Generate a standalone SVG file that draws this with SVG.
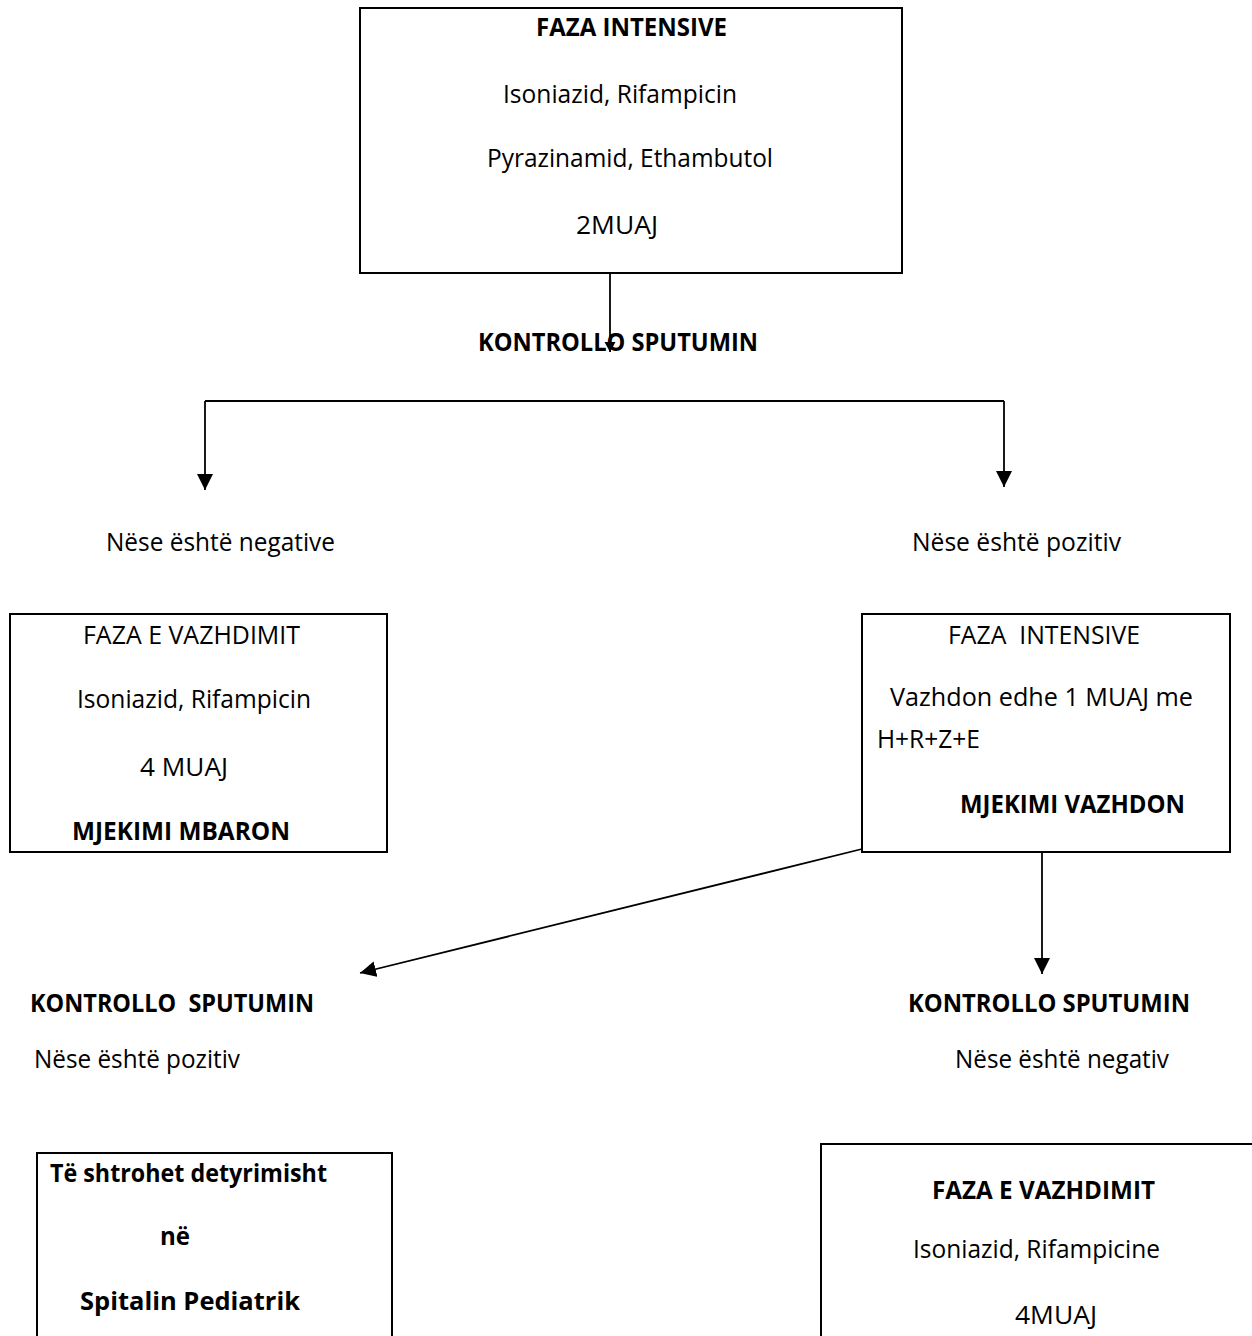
<svg xmlns="http://www.w3.org/2000/svg" width="1252" height="1336" viewBox="0 0 1252 1336">
<style>
.box{fill:#fff;stroke:#000;stroke-width:2}
.t{font-family:"Open Sans","Noto Sans","Liberation Sans",sans-serif;font-size:25px;fill:#000}
.b{font-weight:bold}
.c{fill:none;stroke:#000;stroke-width:1.8}
</style>
<defs>
<marker id="ah" markerUnits="userSpaceOnUse" markerWidth="16" markerHeight="18" refX="16" refY="8" orient="auto">
<path d="M0,0 L16,8 L0,16 Z" fill="#000"/>
</marker>
<marker id="ahs" markerUnits="userSpaceOnUse" markerWidth="12" markerHeight="12" refX="10" refY="5.5" orient="auto">
<path d="M0,0 L10,5.5 L0,11 Z" fill="#000"/>
</marker>
</defs>
<rect width="1252" height="1336" fill="#fff"/>

<g id="n_top">
<rect class="box" x="360" y="8" width="542" height="265"/>
<text class="t b" x="536" y="36" textLength="191" lengthAdjust="spacingAndGlyphs">FAZA INTENSIVE</text>
<text class="t" x="503" y="103" textLength="234" lengthAdjust="spacingAndGlyphs">Isoniazid, Rifampicin</text>
<text class="t" x="487" y="167" textLength="286" lengthAdjust="spacingAndGlyphs">Pyrazinamid, Ethambutol</text>
<text class="t" x="576" y="234" textLength="82" lengthAdjust="spacingAndGlyphs">2MUAJ</text>
</g>

<g id="n_kontrollo1">
<text class="t b" x="478" y="351" textLength="280" lengthAdjust="spacingAndGlyphs">KONTROLLO SPUTUMIN</text>
</g>

<g id="n_neg1">
<text class="t" x="106" y="551" textLength="229" lengthAdjust="spacingAndGlyphs">Nëse është negative</text>
</g>
<g id="n_poz1">
<text class="t" x="912" y="551" textLength="209" lengthAdjust="spacingAndGlyphs">Nëse është pozitiv</text>
</g>

<g id="n_vazhdimit1">
<rect class="box" x="10" y="614" width="377" height="238"/>
<text class="t" x="83" y="644" textLength="217" lengthAdjust="spacingAndGlyphs">FAZA E VAZHDIMIT</text>
<text class="t" x="77" y="708" textLength="234" lengthAdjust="spacingAndGlyphs">Isoniazid, Rifampicin</text>
<text class="t" x="140" y="776" textLength="88" lengthAdjust="spacingAndGlyphs">4 MUAJ</text>
<text class="t b" x="72" y="840" textLength="218" lengthAdjust="spacingAndGlyphs">MJEKIMI MBARON</text>
</g>

<g id="n_intensive2">
<rect class="box" x="862" y="614" width="368" height="238"/>
<text class="t" x="948" y="644" textLength="192" lengthAdjust="spacingAndGlyphs" xml:space="preserve">FAZA  INTENSIVE</text>
<text class="t" x="890" y="706" textLength="303" lengthAdjust="spacingAndGlyphs">Vazhdon edhe 1 MUAJ me</text>
<text class="t" x="877" y="748" textLength="103" lengthAdjust="spacingAndGlyphs">H+R+Z+E</text>
<text class="t b" x="960" y="813" textLength="225" lengthAdjust="spacingAndGlyphs">MJEKIMI VAZHDON</text>
</g>

<g id="n_kontrollo2">
<text class="t b" x="30" y="1012" textLength="284" lengthAdjust="spacingAndGlyphs" xml:space="preserve">KONTROLLO  SPUTUMIN</text>
</g>
<g id="n_poz2">
<text class="t" x="34" y="1068" textLength="206" lengthAdjust="spacingAndGlyphs">Nëse është pozitiv</text>
</g>
<g id="n_kontrollo3">
<text class="t b" x="908" y="1012" textLength="282" lengthAdjust="spacingAndGlyphs">KONTROLLO SPUTUMIN</text>
</g>
<g id="n_neg2">
<text class="t" x="955" y="1068" textLength="214" lengthAdjust="spacingAndGlyphs">Nëse është negativ</text>
</g>

<g id="n_spitali">
<rect class="box" x="37" y="1153" width="355" height="200"/>
<text class="t b" x="50" y="1182" textLength="277" lengthAdjust="spacingAndGlyphs">Të shtrohet detyrimisht</text>
<text class="t b" x="160" y="1245" textLength="30" lengthAdjust="spacingAndGlyphs">në</text>
<text class="t b" x="80" y="1310" textLength="220" lengthAdjust="spacingAndGlyphs">Spitalin Pediatrik</text>
</g>

<g id="n_vazhdimit2">
<rect class="box" x="821" y="1144" width="440" height="210"/>
<text class="t b" x="932" y="1199" textLength="223" lengthAdjust="spacingAndGlyphs">FAZA E VAZHDIMIT</text>
<text class="t" x="913" y="1258" textLength="247" lengthAdjust="spacingAndGlyphs">Isoniazid, Rifampicine</text>
<text class="t" x="1015" y="1324" textLength="82" lengthAdjust="spacingAndGlyphs">4MUAJ</text>
</g>

<g id="connectors">
<line class="c" x1="610" y1="273" x2="610" y2="352" marker-end="url(#ahs)"/>
<polyline class="c" points="205,401 1004,401"/>
<line class="c" x1="205" y1="401" x2="205" y2="490" marker-end="url(#ah)"/>
<line class="c" x1="1004" y1="401" x2="1004" y2="487" marker-end="url(#ah)"/>
<line class="c" x1="862" y1="849" x2="360" y2="973" marker-end="url(#ah)"/>
<line class="c" x1="1042" y1="852" x2="1042" y2="974" marker-end="url(#ah)"/>
</g>
</svg>
